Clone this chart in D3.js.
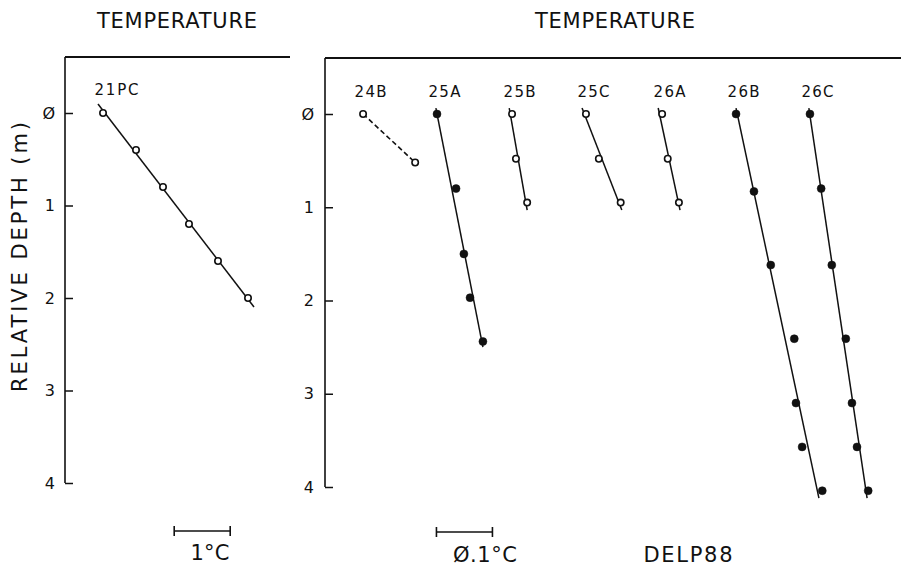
<!DOCTYPE html>
<html><head><meta charset="utf-8">
<script src="https://cdn.jsdelivr.net/npm/d3@7"></script>
<style>html,body{margin:0;padding:0;background:#fff;}svg{display:block;}</style>
</head><body>
<svg id="c" width="901" height="568"></svg>
<script>
// ---- data ----
const depthTicks = [0, 1, 2, 3, 4];
const depthTickLabels = ["Ø", "1", "2", "3", "4"];

// left panel (°C, arbitrary origin)
const leftName = "21PC";
const leftDepths = [0, 0.4, 0.8, 1.2, 1.6, 2.0];
const leftTemps = [0.679, 1.268, 1.750, 2.214, 2.732, 3.268];
const leftFitDepths = [-0.097, 2.097];
const leftFitTemps = [0.589, 3.375];

// right panel (°C, arbitrary origin)
const stationNames = ["24B", "25A", "25B", "25C", "26A", "26B", "26C"];
const stationFilled = [false, true, false, false, false, true, true];
const stationDepths = [
  [0, 0.52],
  [0, 0.80, 1.50, 1.97, 2.44],
  [0, 0.48, 0.95],
  [0, 0.48, 0.95],
  [0, 0.48, 0.95],
  [0, 0.83, 1.62, 2.41, 3.10, 3.57, 4.04],
  [0, 0.80, 1.62, 2.41, 3.10, 3.57, 4.04]
];
const stationTemps = [
  [0.068, 0.161],
  [0.200, 0.234, 0.248, 0.259, 0.282],
  [0.334, 0.341, 0.361],
  [0.466, 0.489, 0.528],
  [0.602, 0.612, 0.632],
  [0.734, 0.766, 0.796, 0.838, 0.841, 0.852, 0.888],
  [0.866, 0.886, 0.905, 0.930, 0.941, 0.950, 0.970]
];
// fitted lines: null = dashed connection of points
const fitDepths = [null, [-0.064, 2.50], [-0.064, 1.03], [-0.064, 1.03], [-0.064, 1.03], [-0.064, 4.12], [-0.064, 4.12]];
const fitTemps  = [null, [0.198, 0.282], [0.329, 0.361], [0.459, 0.530], [0.595, 0.634], [0.734, 0.882], [0.864, 0.968]];

const scaleBarLeft = 1;    // °C
const scaleBarRight = 0.1; // °C

// ---- drawing ----
const svg = d3.select("#c");
const FONT = "DejaVu Sans, sans-serif";

const xL = d3.scaleLinear([0, 4], [65, 289]);
const yL = d3.scaleLinear([0, 4], [113, 483]);
const xR = d3.scaleLinear([0, 1], [325, 885]);
const yR = d3.scaleLinear([0, 4], [114, 487]);

function txt(x, y, s, size, len, anchor, rot) {
  const t = svg.append("text").attr("x", x).attr("y", y)
    .attr("font-family", FONT).attr("font-size", size)
    .attr("fill", "#111").attr("text-anchor", anchor || "middle").text(s);
  if (len) t.attr("textLength", len).attr("lengthAdjust", "spacing");
  if (rot) t.attr("transform", `rotate(${rot},${x},${y})`);
  return t;
}

// titles
txt(177, 28, "TEMPERATURE", 21, 160);
txt(615, 28, "TEMPERATURE", 21, 160);
txt(27, 257, "RELATIVE DEPTH (m)", 21, 270, "middle", -90);

// frames
svg.append("line").attr("x1", xL.range()[0]).attr("x2", 290).attr("y1", 57).attr("y2", 57)
  .attr("stroke", "#111").attr("stroke-width", 2);
svg.append("line").attr("x1", xL.range()[0]).attr("x2", xL.range()[0]).attr("y1", 57).attr("y2", yL(4))
  .attr("stroke", "#111").attr("stroke-width", 1.6);
svg.append("line").attr("x1", xR.range()[0]).attr("x2", 901).attr("y1", 58).attr("y2", 58)
  .attr("stroke", "#111").attr("stroke-width", 2);
svg.append("line").attr("x1", xR.range()[0]).attr("x2", xR.range()[0]).attr("y1", 58).attr("y2", yR(4))
  .attr("stroke", "#111").attr("stroke-width", 1.6);

function drawAxis(y, x0, pad) {
  const ax = d3.axisLeft(y).tickValues(depthTicks)
    .tickFormat((d, i) => depthTickLabels[i]).tickSizeInner(-8).tickSizeOuter(0).tickPadding(pad);
  const g = svg.append("g").attr("transform", `translate(${x0},0)`).call(ax);
  g.select(".domain").remove();
  g.selectAll(".tick line").attr("stroke", "#111").attr("stroke-width", 1.5);
  g.selectAll(".tick text").attr("font-family", FONT).attr("font-size", 16).attr("fill", "#111");
}
drawAxis(yL, 65, 10);
drawAxis(yR, 325, 11);

function drawStation(x, y, name, depths, temps, filled, fd, ft, labelY) {
  if (fd) {
    svg.append("line").attr("x1", x(ft[0])).attr("y1", y(fd[0]))
      .attr("x2", x(ft[1])).attr("y2", y(fd[1]))
      .attr("stroke", "#111").attr("stroke-width", 1.5);
  } else {
    const line = d3.line().x((d, i) => x(temps[i])).y(d => y(d));
    svg.append("path").attr("d", line(depths)).attr("fill", "none")
      .attr("stroke", "#111").attr("stroke-width", 1.6).attr("stroke-dasharray", "5,3");
  }
  svg.append("g").selectAll("circle").data(depths).join("circle")
    .attr("cx", (d, i) => x(temps[i])).attr("cy", d => y(d))
    .attr("r", filled ? 4 : 3.2)
    .attr("fill", filled ? "#111" : "#fff")
    .attr("stroke", "#111").attr("stroke-width", filled ? 0.5 : 1.6);
  const w = name.length === 4 ? 44 : 32;
  txt(x(temps[0]) - 8.5, labelY, name, 15, w, "start");
}

drawStation(xL, yL, leftName, leftDepths, leftTemps, false, leftFitDepths, leftFitTemps, 95);
stationNames.forEach((n, i) => {
  drawStation(xR, yR, n, stationDepths[i], stationTemps[i], stationFilled[i], fitDepths[i], fitTemps[i], 97);
});

// scale bars
function scaleBar(x, t0, dt, y) {
  const a = x(t0), b = x(t0 + dt);
  const g = svg.append("g").attr("stroke", "#111").attr("stroke-width", 1.6);
  g.append("line").attr("x1", a).attr("x2", b).attr("y1", y).attr("y2", y);
  g.append("line").attr("x1", a).attr("x2", a).attr("y1", y - 5).attr("y2", y + 5);
  g.append("line").attr("x1", b).attr("x2", b).attr("y1", y - 5).attr("y2", y + 5);
}
scaleBar(xL, 1.95, scaleBarLeft, 531);
scaleBar(xR, 0.199, scaleBarRight, 532);

txt(210, 560, "1°C", 21, 39);
txt(485, 562, "Ø.1°C", 21, 64);
txt(688, 562, "DELP88", 21, 89);
</script>
</body></html>
